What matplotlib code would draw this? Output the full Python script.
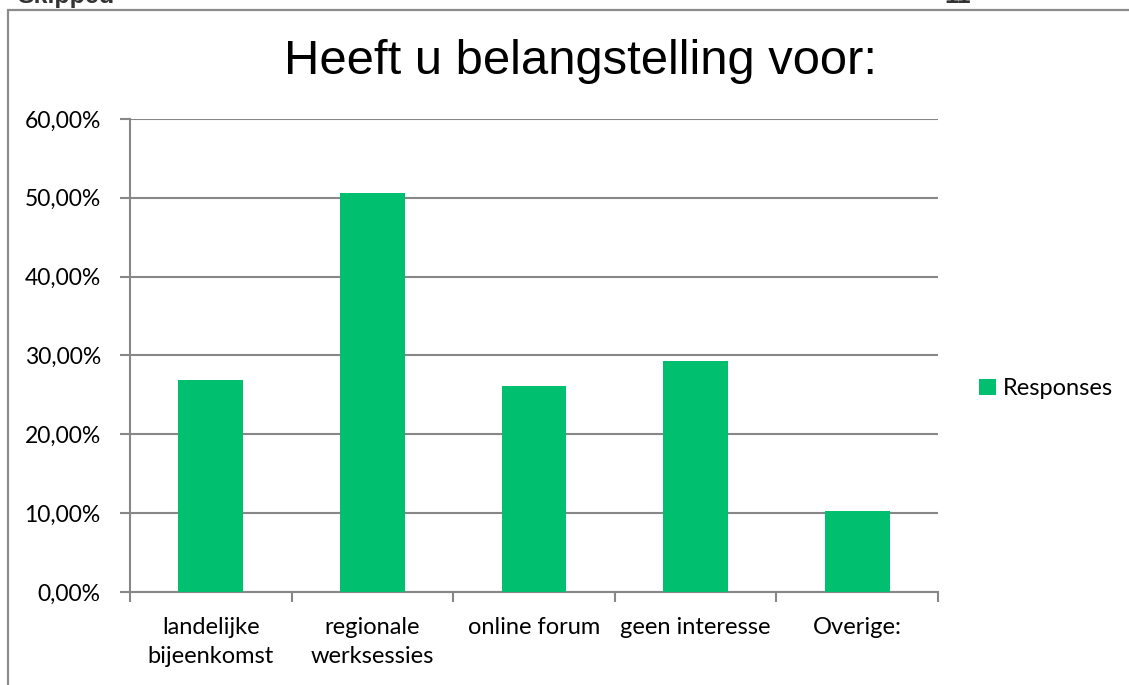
import numpy as np
import matplotlib.pyplot as plt
from matplotlib.patches import Rectangle
from matplotlib.ticker import FuncFormatter, FixedLocator

categories = ["landelijke\nbijeenkomst", "regionale\nwerksessies", "online forum",
              "geen interesse", "Overige:"]
responses = [0.269, 0.506, 0.261, 0.293, 0.103]

green = "#00BF6F"
grid_col = "#878787"
W, H = 1129, 685

fig = plt.figure(figsize=(W / 100, H / 100), dpi=100)
ax = fig.add_axes([130 / W, 1 - 592 / H, (938 - 130) / W, (592 - 119) / H])

# outer frame, cut off at the right and bottom edges
fig.patches.append(Rectangle((8 / W, -0.1), 1.2, 1 - 10 / H + 0.1, transform=fig.transFigure,
                             fill=False, edgecolor="#8c8c8c", linewidth=1.6, clip_on=False))
fig.text(17 / W, 1 - 3 / H, "Skipped", fontsize=18, fontweight="bold", color="#333333",
         family="Liberation Sans", va="baseline")
fig.text(944 / W, 1 - 3 / H, "11", fontsize=18, fontweight="bold", color="#333333",
         family="Liberation Sans", va="baseline")

x = np.arange(len(categories))
ax.bar(x, responses, width=0.4, color=green, label="Responses", zorder=3)

ax.set_xlim(-0.5, len(categories) - 0.5)
ax.set_ylim(0, 0.6)
ax.yaxis.set_major_locator(FixedLocator(np.arange(0, 0.61, 0.1)))
ax.yaxis.set_major_formatter(FuncFormatter(lambda v, p: f"{v * 100:.2f}%".replace(".", ",")))
ax.grid(axis="y", color=grid_col, linewidth=1.5, zorder=0)

# category boundaries as tick marks, names in between
ax.set_xticks(np.arange(-0.5, len(categories), 1.0))
ax.set_xticklabels([])
ax.set_xticks(x, minor=True)
ax.set_xticklabels(categories, minor=True, fontsize=17, family="Lato", linespacing=1.45)
ax.tick_params(axis="x", which="minor", length=0, pad=18)
ax.tick_params(axis="x", which="major", length=7, width=1.5, color=grid_col)
ax.tick_params(axis="y", length=7, width=1.5, color=grid_col, labelsize=16.5, pad=14)
for lab in ax.get_yticklabels():
    lab.set_family("Lato")

for s in ["top", "right"]:
    ax.spines[s].set_visible(False)
for s in ["left", "bottom"]:
    ax.spines[s].set_color(grid_col)
    ax.spines[s].set_linewidth(1.5)

fig.text(581 / W, 1 - 62 / H, "Heeft u belangstelling voor:", fontsize=35.3,
         family="Liberation Sans", ha="center", va="center")

leg = ax.legend(loc="center left", bbox_to_anchor=(1.025, 0.43), frameon=False,
                prop={"family": "Lato", "size": 17}, handlelength=0.7, handleheight=0.7,
                handletextpad=0.3)

fig.savefig("out.png", dpi=100)
